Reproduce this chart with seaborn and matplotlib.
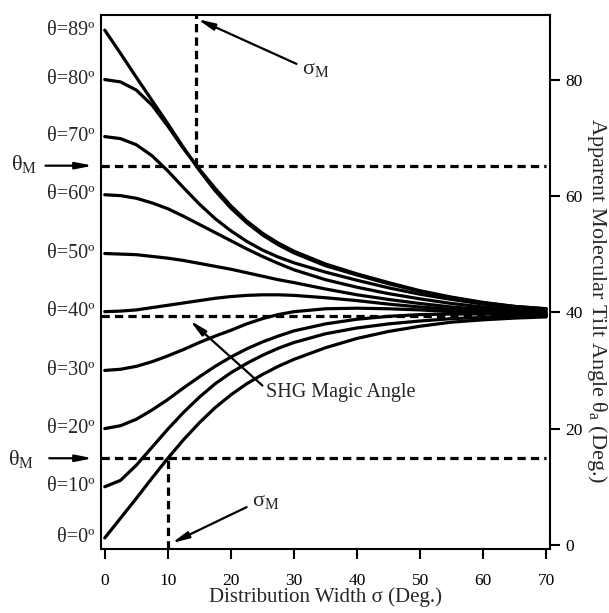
import matplotlib
matplotlib.use('Agg')

import numpy as np
import pandas as pd
import matplotlib.pyplot as plt
import seaborn as sns

# ==========================================
# DATA
# ==========================================
sigma = [0, 2.5, 5, 7.5, 10, 12.5, 15, 17.5, 20, 22.5, 25, 27.5, 30,
         35, 40, 45, 50, 55, 60, 65, 70]

theta0 = [0, 10, 20, 30, 40, 50, 60, 70, 80, 89]

ta_0 = [1.2, 4.6, 8.0, 11.5, 14.9, 18.1, 21.0, 23.6, 25.8, 27.7, 29.3, 30.7, 31.9,
        33.9, 35.5, 36.7, 37.6, 38.3, 38.7, 39.0, 39.2]
ta_10 = [10.0, 11.1, 13.7, 16.8, 19.9, 22.8, 25.4, 27.7, 29.6, 31.2, 32.6, 33.8, 34.8,
         36.3, 37.3, 38.0, 38.5, 38.9, 39.1, 39.3, 39.4]
ta_20 = [20.0, 20.5, 21.6, 23.2, 25.0, 27.0, 28.9, 30.7, 32.3, 33.7, 34.9, 35.9, 36.8,
         38.0, 38.8, 39.3, 39.6, 39.7, 39.7, 39.6, 39.5]
ta_30 = [30.0, 30.2, 30.7, 31.5, 32.5, 33.6, 34.8, 35.9, 36.9, 38.0, 38.9, 39.6, 40.1,
         40.6, 40.7, 40.6, 40.4, 40.1, 39.9, 39.7, 39.5]
ta_40 = [40.1, 40.2, 40.4, 40.8, 41.2, 41.6, 42.0, 42.4, 42.7, 42.9, 43.0, 43.0, 42.9,
         42.5, 42.0, 41.4, 40.9, 40.5, 40.2, 39.9, 39.7]
ta_50 = [50.1, 50.0, 49.9, 49.6, 49.3, 48.9, 48.4, 47.9, 47.4, 46.8, 46.2, 45.6, 45.1,
         44.0, 43.0, 42.2, 41.5, 40.9, 40.5, 40.2, 39.9]
ta_60 = [60.2, 60.05, 59.6, 58.8, 57.8, 56.5, 55.1, 53.7, 52.3, 50.9, 49.6, 48.4, 47.3,
         45.6, 44.3, 43.2, 42.3, 41.5, 40.9, 40.5, 40.2]
ta_70 = [70.2, 69.85, 68.8, 66.9, 64.3, 61.4, 58.6, 56.1, 54.0, 52.2, 50.7, 49.5, 48.5,
         46.9, 45.5, 44.2, 43.1, 42.2, 41.4, 40.9, 40.5]
ta_80 = [80.0, 79.6, 78.2, 75.6, 72.0, 68.1, 64.6, 61.3, 58.3, 55.7, 53.6, 51.9, 50.5,
         48.3, 46.6, 45.1, 43.7, 42.6, 41.7, 41.0, 40.6]
ta_89 = [88.5, 84.5, 80.4, 76.4, 72.4, 68.3, 64.4, 60.9, 57.9, 55.4, 53.3, 51.6, 50.2,
         48.0, 46.4, 44.9, 43.6, 42.5, 41.6, 41.0, 40.6]

curves = [ta_0, ta_10, ta_20, ta_30, ta_40, ta_50, ta_60, ta_70, ta_80, ta_89]

# reference lines
theta_M_hi = 65.2
sigma_M_hi = 14.4
theta_M_lo = 14.9
sigma_M_lo = 10.0
magic_angle = 39.3

x_ticks = [0, 10, 20, 30, 40, 50, 60, 70]
y_ticks = [0, 20, 40, 60, 80]

# ==========================================
# FIGURE
# ==========================================
sns.set_style("ticks")
plt.rcParams['font.family'] = ['Liberation Serif', 'DejaVu Serif']
plt.rcParams['mathtext.fontset'] = 'custom'
plt.rcParams['mathtext.rm'] = 'Liberation Serif'
plt.rcParams['mathtext.it'] = 'Liberation Serif:italic'
plt.rcParams['mathtext.bf'] = 'Liberation Serif:bold'

df = pd.DataFrame({
    'sigma': np.tile(sigma, len(theta0)),
    'theta_a': np.concatenate(curves),
    'theta0': np.repeat(theta0, len(sigma)),
})

fig = plt.figure(figsize=(6.09, 6.13), dpi=100)
ax = fig.add_axes([0.1658, 0.1044, 0.7373, 0.8711])

sns.lineplot(data=df, x='sigma', y='theta_a', units='theta0', estimator=None,
             color='black', lw=2.3, ax=ax)

xmin, xmax = -0.6, 70.6
ymin, ymax = -0.7, 91.1
ax.set_xlim(xmin, xmax)
ax.set_ylim(ymin, ymax)

dash = dict(color='black', lw=2.3, ls=(0, (2.6, 1.6)))
ax.plot([xmin, 70], [theta_M_hi, theta_M_hi], **dash)
ax.plot([xmin, 70], [magic_angle, magic_angle], **dash)
ax.plot([xmin, 70], [theta_M_lo, theta_M_lo], **dash)
ax.plot([sigma_M_hi, sigma_M_hi], [theta_M_hi, ymax], **dash)
ax.plot([sigma_M_lo, sigma_M_lo], [ymin, theta_M_lo], **dash)

# axes styling
for s in ax.spines.values():
    s.set_linewidth(1.5)
    s.set_color('black')
ax.yaxis.tick_right()
ax.yaxis.set_label_position('right')
ax.set_xticks(x_ticks)
ax.set_yticks(y_ticks)
ax.tick_params(axis='both', direction='out', length=7, width=1.5,
               labelsize=12.5, colors='black')
ax.tick_params(axis='x', pad=10)
ax.tick_params(axis='y', pad=4)

ax.set_xlabel('Distribution Width σ (Deg.)', fontsize=15, labelpad=-1)
ax.set_ylabel('Apparent Molecular Tilt Angle θ$_\\mathrm{a}$ (Deg.)', fontsize=16,
              rotation=270, va='center')
ax.yaxis.set_label_coords(1.105, 0.465)

# left labels for each starting angle
for t, c in zip(theta0, curves):
    ax.text(-1.6, c[0], f'θ={t}º', fontsize=14.5, ha='right', va='center',
            clip_on=False)

arrow = dict(arrowstyle='-|>,head_length=1.0,head_width=0.2', color='black',
             lw=1.6, shrinkA=0, shrinkB=0)

# theta_M arrows on the left
ax.annotate('', xy=(-1.9, theta_M_hi), xytext=(-9.4, theta_M_hi),
            arrowprops=arrow, annotation_clip=False)
ax.text(-12.8, theta_M_hi + 0.3, 'θ$_\\mathrm{M}$', fontsize=16, ha='center',
        va='center', clip_on=False)
ax.annotate('', xy=(-1.9, theta_M_lo), xytext=(-8.8, theta_M_lo),
            arrowprops=arrow, annotation_clip=False)
ax.text(-13.2, theta_M_lo - 0.2, 'θ$_\\mathrm{M}$', fontsize=16, ha='center',
        va='center', clip_on=False)

# sigma_M arrows
ax.annotate('', xy=(14.7, 90.4), xytext=(30.4, 82.7), arrowprops=arrow)
ax.text(31.2, 81.8, 'σ$_\\mathrm{M}$', fontsize=16, ha='left', va='center')
ax.annotate('', xy=(10.6, 0.3), xytext=(22.5, 6.5), arrowprops=arrow)
ax.text(23.4, 7.4, 'σ$_\\mathrm{M}$', fontsize=16, ha='left', va='center')

# magic angle arrow
ax.annotate('', xy=(13.5, 38.6), xytext=(25.0, 27.4), arrowprops=arrow)
ax.text(25.6, 26.2, 'SHG Magic Angle', fontsize=14.5, ha='left', va='center')

plt.savefig('out.png', dpi=100)
